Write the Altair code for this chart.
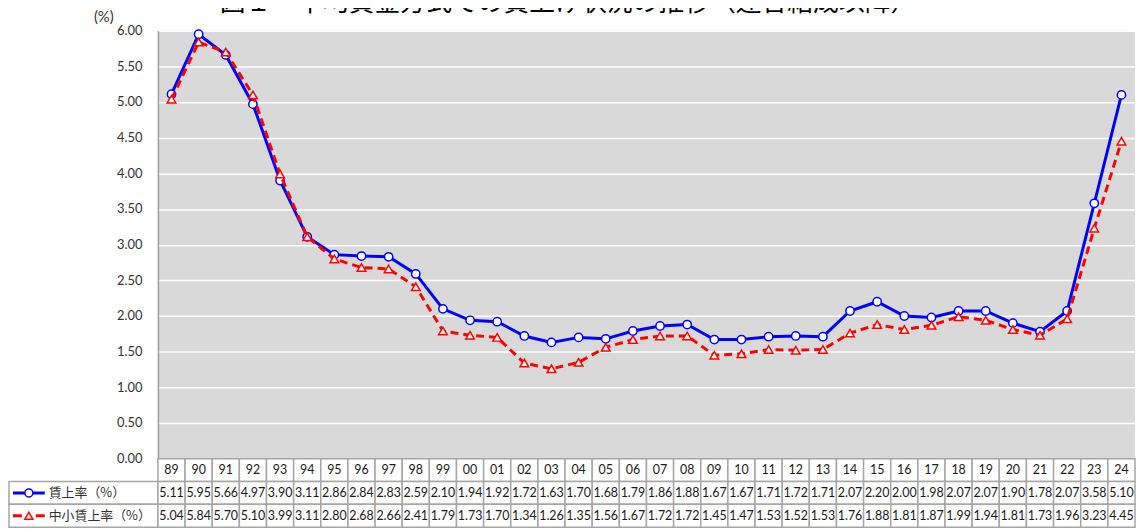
import altair as alt
import pandas as pd

years = ["89", "90", "91", "92", "93", "94", "95", "96", "97", "98", "99",
         "00", "01", "02", "03", "04", "05", "06", "07", "08", "09", "10",
         "11", "12", "13", "14", "15", "16", "17", "18", "19", "20", "21",
         "22", "23", "24"]
wage_rate = [5.11, 5.95, 5.66, 4.97, 3.90, 3.11, 2.86, 2.84, 2.83, 2.59, 2.10,
             1.94, 1.92, 1.72, 1.63, 1.70, 1.68, 1.79, 1.86, 1.88, 1.67, 1.67,
             1.71, 1.72, 1.71, 2.07, 2.20, 2.00, 1.98, 2.07, 2.07, 1.90, 1.78,
             2.07, 3.58, 5.10]
sme_rate = [5.04, 5.84, 5.70, 5.10, 3.99, 3.11, 2.80, 2.68, 2.66, 2.41, 1.79,
            1.73, 1.70, 1.34, 1.26, 1.35, 1.56, 1.67, 1.72, 1.72, 1.45, 1.47,
            1.53, 1.52, 1.53, 1.76, 1.88, 1.81, 1.87, 1.99, 1.94, 1.81, 1.73,
            1.96, 3.23, 4.45]
row_keys = ["year", "all", "sme"]
row_labels = ["", "賃上率（%）", "中小賃上率（%）"]
y_ticks = [0, 0.5, 1, 1.5, 2, 2.5, 3, 3.5, 4, 4.5, 5, 5.5, 6]
title_text = "図１　平均賃金方式での賃上げ状況の推移（連合結成以降）"

BLUE = "#0000ff"
RED = "#ff0000"
GRID_BORDER = "#a6a6a6"
TXT = "#1a1a1a"
LATIN = "Lato"
CJK = "Noto Sans CJK JP"

PLOT_W = 984
PLOT_H = 431
LABEL_W = 150
TABLE_H = 69

# ---------- line chart ----------
df_lines = pd.DataFrame({"year": years, "all": wage_rate, "sme": sme_rate})

x_pt = alt.X("year:N", sort=years, scale=alt.Scale(type="point", padding=0.5), axis=None)
y_axis = alt.Axis(values=y_ticks, format=".2f", title="(%)", titleAngle=0,
                  titleX=-55, titleY=-9, titleAlign="center", titleBaseline="alphabetic",
                  titleFont=LATIN, titleFontSize=15, titleFontWeight="normal",
                  titleColor="#333333", labelFont=LATIN, labelFontSize=13,
                  labelColor="#333333", labelPadding=16, ticks=False, tickSize=0,
                  domainColor="#a0a0a0", domainWidth=1.5, grid=True,
                  gridColor="white", gridWidth=1.5)
y_scale = alt.Scale(domain=[0, 6], nice=False, zero=True)


def yenc(field):
    return alt.Y(f"{field}:Q", scale=y_scale, axis=y_axis)


base = alt.Chart(df_lines).encode(x=x_pt)
blue_line = base.mark_line(color=BLUE, strokeWidth=3).encode(y=yenc("all"))
blue_pts = base.mark_point(shape="circle", filled=True, fill="white", stroke=BLUE,
                           strokeWidth=1.5, size=70, opacity=1).encode(y=yenc("all"))
red_line = base.mark_line(color=RED, strokeWidth=3, strokeDash=[8, 5]).encode(y=yenc("sme"))
red_pts = base.mark_point(shape="triangle-up", filled=True, fill="white", stroke=RED,
                          strokeWidth=1.5, size=75, opacity=1).encode(y=yenc("sme"))

lines = alt.layer(blue_line, blue_pts, red_line, red_pts).properties(
    width=PLOT_W, height=PLOT_H,
    view=alt.ViewBackground(fill="#d9d9d9", stroke=None),
)

# ---------- empty top-left cell ----------
empty = alt.Chart(pd.DataFrame({"a": [0]})).mark_text().encode(
    text=alt.value("")
).properties(width=LABEL_W, height=PLOT_H)

# ---------- data table ----------
recs = []
for i, yr in enumerate(years):
    recs.append({"year": yr, "row": "year", "label": yr})
    recs.append({"year": yr, "row": "all", "label": f"{wage_rate[i]:.2f}"})
    recs.append({"year": yr, "row": "sme", "label": f"{sme_rate[i]:.2f}"})
df_table = pd.DataFrame(recs)

band0 = alt.Scale(paddingInner=0, paddingOuter=0)
tbase = alt.Chart(df_table).encode(
    x=alt.X("year:N", sort=years, scale=band0, axis=None),
    y=alt.Y("row:N", sort=row_keys, scale=band0, axis=None),
)
cells = tbase.mark_rect(fill="white", stroke=GRID_BORDER, strokeWidth=1.5)
cell_txt = tbase.mark_text(font=LATIN, fontSize=12.5, color=TXT).encode(text="label:N")
table = alt.layer(cells, cell_txt).properties(width=PLOT_W, height=TABLE_H)

# ---------- row label column ----------
df_lab = pd.DataFrame({"col": ["label"] * 3, "row": row_keys, "label": row_labels})
lbase = alt.Chart(df_lab).encode(
    x=alt.X("col:N", scale=band0, axis=None),
    y=alt.Y("row:N", sort=row_keys, scale=band0, axis=None),
)
lab_cells = lbase.mark_rect(fill="white", stroke=GRID_BORDER, strokeWidth=1.5).transform_filter(
    alt.datum.row != "year")
lab_txt = lbase.mark_text(font=CJK, fontSize=13, color="#333333", align="left").encode(
    x=alt.value(40), text="label:N")
gbase = alt.Chart(df_lab).encode(y=alt.Y("row:N", sort=row_keys, scale=band0, axis=None))
g_blue_line = gbase.mark_rule(color=BLUE, strokeWidth=3).encode(
    x=alt.value(4), x2=alt.value(36)).transform_filter(alt.datum.row == "all")
g_blue_pt = gbase.mark_point(shape="circle", filled=True, fill="white", stroke=BLUE,
                             strokeWidth=1.5, size=65, opacity=1).encode(
    x=alt.value(20)).transform_filter(alt.datum.row == "all")
g_red_line = gbase.mark_rule(color=RED, strokeWidth=3, strokeDash=[9, 14, 9]).encode(
    x=alt.value(4), x2=alt.value(36)).transform_filter(alt.datum.row == "sme")
g_red_pt = gbase.mark_point(shape="triangle-up", filled=True, fill="white", stroke=RED,
                            strokeWidth=1.5, size=65, opacity=1).encode(
    x=alt.value(20)).transform_filter(alt.datum.row == "sme")
labels = alt.layer(lab_cells, lab_txt, g_blue_line, g_blue_pt, g_red_line, g_red_pt).properties(
    width=LABEL_W, height=TABLE_H)

chart = alt.concat(empty, lines, labels, table, columns=2, spacing=0, bounds="flush").properties(
    title=alt.TitleParams(text=title_text, font=CJK, fontSize=26, fontWeight="normal",
                          color="#000000", anchor="middle", baseline="alphabetic",
                          offset=-27, dx=-4),
    padding={"top": -20, "left": 0, "right": 0, "bottom": 0},
    autosize=alt.AutoSizeParams(type="pad"),
).configure_view(stroke=None)

chart.save("out.html", embed_options={"renderer": "svg", "actions": False})
